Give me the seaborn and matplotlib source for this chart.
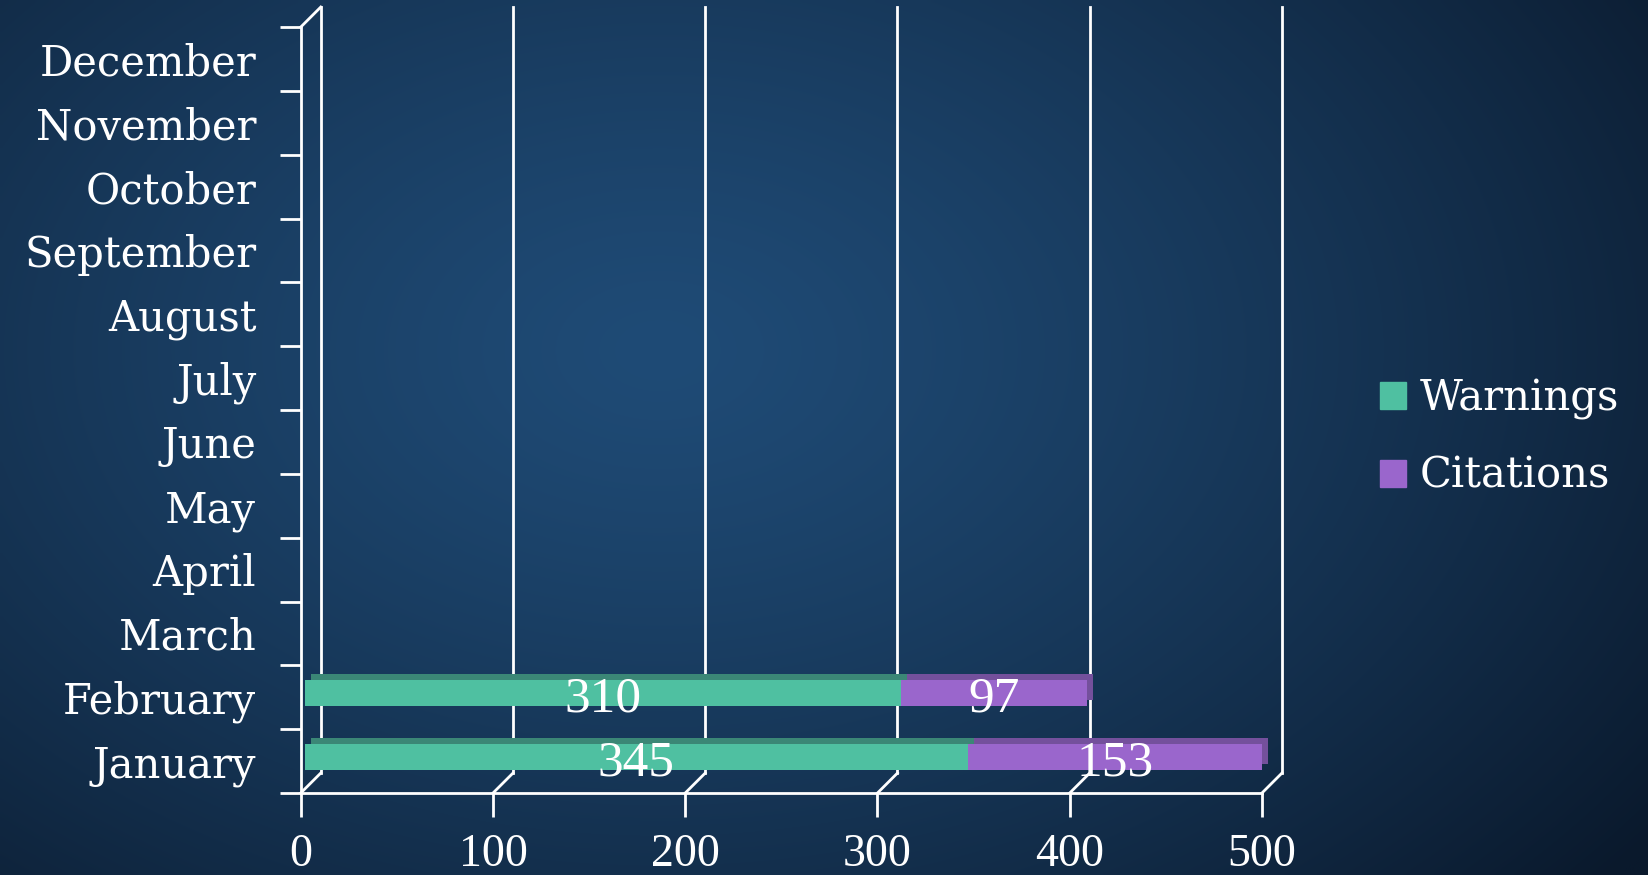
"""
stacked bar chart of monthly warnings and citations (3d-ish look)
"""

import numpy as np
import pandas as pd
import matplotlib
matplotlib.use('Agg')
import matplotlib.pyplot as plt
import seaborn as sns
from matplotlib.transforms import ScaledTranslation
from matplotlib.patches import Patch

months = ['January', 'February', 'March', 'April', 'May', 'June', 'July',
          'August', 'September', 'October', 'November', 'December']
warnings = [345, 310] + [np.nan] * 10
citations = [153, 97] + [np.nan] * 10
x_ticks = [0, 100, 200, 300, 400, 500]

green, green_top = '#4fc0a1', '#3b8776'
purple, purple_top = '#9a66cc', '#74509c'

dat = pd.DataFrame({'month': months, 'Warnings': warnings, 'Citations': citations})
dat['Total'] = dat['Warnings'] + dat['Citations']
order = months[::-1]

plt.rcParams['font.family'] = ['DejaVu Serif']
fig = plt.figure(figsize=(16.49, 8.75), dpi=100)

# background: dark blue vignette
bg = fig.add_axes([0, 0, 1, 1], zorder=-1)
yy, xx = np.mgrid[0:1:200j, 0:1:380j]
r = np.sqrt(((xx - 0.40) / 0.75) ** 2 + ((yy - 0.40) / 0.95) ** 2)
r = np.clip(r, 0, 1) ** 1.3
c0 = np.array([0x1f, 0x4b, 0x76]) / 255
c1 = np.array([0x0a, 0x19, 0x2c]) / 255
img = c0[None, None, :] * (1 - r[..., None]) + c1[None, None, :] * r[..., None]
bg.imshow(img, aspect='auto', extent=[0, 1, 0, 1], origin='upper', interpolation='bilinear')
bg.axis('off')

ax = fig.add_axes([0.1824, 0.0937, 0.5829, 0.8754])
ax.patch.set_alpha(0)

fig_w_px = fig.get_figwidth() * fig.dpi
fig_h_px = fig.get_figheight() * fig.dpi
ux = 500 / (ax.get_position().width * fig_w_px)    # data units per pixel, x
uy = 12 / (ax.get_position().height * fig_h_px)    # data units per pixel, y


def bars(col, color, dx, dy):
    n0 = len(ax.patches)
    sns.barplot(data=dat, x=col, y='month', order=order, orient='h', color=color,
                saturation=1, width=0.41, errorbar=None, ax=ax)
    tr = ax.transData + ScaledTranslation(dx / 100, dy / 100, fig.dpi_scale_trans)
    for p in ax.patches[n0:]:
        p.set_transform(tr)
        p.set_linewidth(0)
        p.set_clip_on(False)
    return tr


bars('Total', purple_top, 10, 10)
bars('Warnings', green_top, 10, 10)
bars('Total', purple, 4, 4)
tr_front = bars('Warnings', green, 4, 4)

# value labels
for m, w, c in zip(months, warnings, citations):
    if np.isnan(w):
        continue
    yb = order.index(m) + 0.29
    for xc, v in [(w / 2, w), (w + c / 2, c)]:
        ax.text(xc, yb, f'{v:.0f}', transform=tr_front, ha='center', va='baseline',
                color='white', fontsize=37, family='Liberation Serif', zorder=5)

ax.set_xlim(0, 500)
ax.set_ylim(11.5, -0.5)

# back wall, floor diagonals
dxd, dyd = 20 * ux, -20 * uy
for t in x_ticks:
    ax.plot([t + dxd] * 2, [11.5 + dyd, -0.5 + dyd], color='white', lw=2, clip_on=False, zorder=0)
    ax.plot([t, t + dxd], [11.5, 11.5 + dyd], color='white', lw=2, clip_on=False, zorder=0)
ax.plot([0, dxd], [-0.5, -0.5 + dyd], color='white', lw=2, clip_on=False, zorder=0)

for s in ['top', 'right']:
    ax.spines[s].set_visible(False)
for s in ['left', 'bottom']:
    ax.spines[s].set_color('white')
    ax.spines[s].set_linewidth(2)

ax.set_xticks(x_ticks)
ax.set_xticklabels([str(t) for t in x_ticks], family='Liberation Serif')
ax.tick_params(axis='x', length=17, width=2, color='white', pad=12,
               labelsize=33, labelcolor='white')
ax.set_yticks(range(12))
ax.set_yticklabels(order)
ax.set_yticks(np.arange(-0.5, 12, 1), minor=True)
ax.tick_params(axis='y', which='major', length=0, pad=32, labelsize=30, labelcolor='white')
ax.tick_params(axis='y', which='minor', length=15, width=2, color='white')
ax.set_xlabel('')
ax.set_ylabel('')

handles = [Patch(color=green, label='Warnings'), Patch(color=purple, label='Citations')]
leg = fig.legend(handles=handles, loc='center left', bbox_to_anchor=(0.837, 0.5006),
                 frameon=False, fontsize=30, handlelength=0.62, handleheight=0.62,
                 handletextpad=0.32, labelspacing=0.85, borderpad=0, borderaxespad=0)
for txt in leg.get_texts():
    txt.set_color('white')

fig.savefig('out.png', dpi=100)
